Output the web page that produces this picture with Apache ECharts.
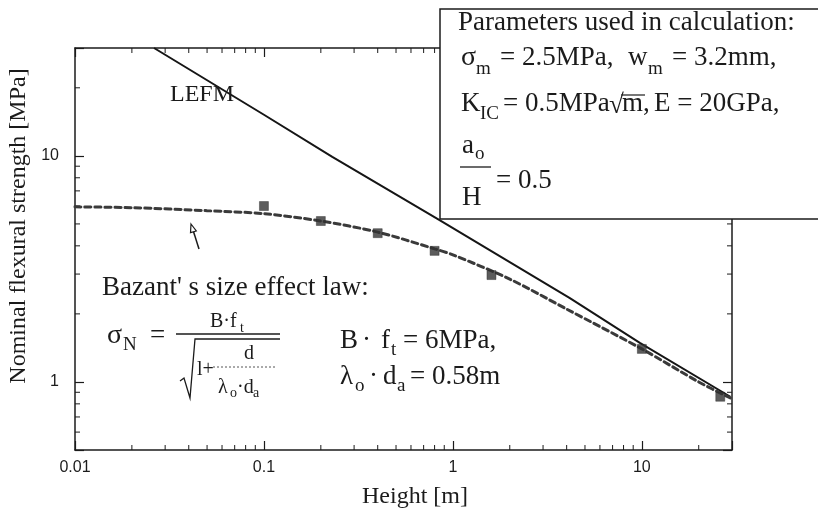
<!DOCTYPE html>
<html>
<head>
<meta charset="utf-8">
<script src="https://cdn.jsdelivr.net/npm/echarts@6/dist/echarts.min.js"></script>
<style>
html,body{margin:0;padding:0;background:#fff;}
#c{width:818px;height:508px;}
</style>
</head>
<body>
<div id="c"></div>
<script>
// ---------------- data ----------------
const lefmHeights     = [0.0262, 0.1, 0.23, 0.85, 4.16, 9.76, 29.4];
const lefmStrength    = [30, 15.2, 9.9, 5.2, 2.35, 1.49, 0.86];
const bazantHeights   = [0.01, 0.02, 0.05, 0.1, 0.2, 0.4, 0.8, 1, 2, 4, 10, 20, 29.4];
const bazantStrength  = [5.95, 5.9, 5.72, 5.55, 5.15, 4.6, 3.88, 3.65, 2.85, 2.1, 1.4, 1.0, 0.85];
const testHeights     = [0.1, 0.2, 0.4, 0.8, 1.6, 10, 26];
const testStrength    = [6.0, 5.15, 4.55, 3.8, 2.97, 1.4, 0.86];
const xTickLabels     = ['0.01', '0.1', '1', '10'];
const yTickLabels     = ['1', '10'];
const minorMantissas  = [2, 3, 4, 5, 6, 7, 8, 9];
const xDecades        = [0.01, 0.1, 1, 10];
const yDecades        = [0.1, 1, 10];
const X_MIN = 0.01, X_MAX = 30, Y_MIN = 0.5, Y_MAX = 30;

// ---------------- styling ----------------
const SERIF = '"Liberation Serif", "Times New Roman", serif';
const SANS  = '"Liberation Sans", Arial, sans-serif';
const INK   = '#1b1b1b';

const xMinor = xDecades.flatMap(d => minorMantissas.map(m => +(m * d).toPrecision(6)))
  .filter(v => v > X_MIN && v < X_MAX);
const yMinor = yDecades.flatMap(d => minorMantissas.map(m => +(m * d).toPrecision(6)))
  .filter(v => v > Y_MIN && v < Y_MAX);

function labelFor(list) {
  return function (v) {
    for (const l of list) {
      const n = Number(l);
      if (Math.abs(v - n) <= n * 1e-6) return l;
    }
    return '';
  };
}

function txt(s, x, base, size, extra) {
  return {
    type: 'text', x: x, y: base - size * 0.33, z: 101,
    style: Object.assign({
      text: s, fontFamily: SERIF, fontSize: size, fill: INK,
      align: 'left', verticalAlign: 'middle'
    }, extra || {})
  };
}
function ln(x1, y1, x2, y2, w, extra) {
  return { type: 'line', z: 101, shape: { x1, y1, x2, y2 },
    style: Object.assign({ stroke: INK, lineWidth: w || 1.3 }, extra || {}) };
}

const tickStyle = { show: true, inside: true, length: 9, lineStyle: { color: INK, width: 1.2 } };
const lineStyleAxis = { show: true, lineStyle: { color: INK, width: 1.5 } };

const chart = echarts.init(document.getElementById('c'), null, { renderer: 'canvas' });

const F = 27;   // main annotation font size
const S = 19;   // subscript size

const option = {
  animation: false,
  backgroundColor: '#ffffff',
  grid: { left: 75, top: 48, right: 86, bottom: 58, containLabel: false, outerBoundsMode: 'none' },
  xAxis: [
    {
      type: 'log', logBase: 10, min: X_MIN, max: X_MAX, position: 'bottom',
      axisLine: lineStyleAxis, axisTick: tickStyle, splitLine: { show: false },
      axisLabel: { formatter: labelFor(xTickLabels), color: INK, fontFamily: SANS, fontSize: 16, margin: 10 },
      name: 'Height [m]', nameLocation: 'middle', nameGap: 35,
      nameTextStyle: { fontFamily: SERIF, fontSize: 24, color: INK, padding: [0, 0, 0, 23] }
    },
    {
      type: 'log', logBase: 10, min: X_MIN, max: X_MAX, position: 'top',
      axisLine: lineStyleAxis, axisTick: tickStyle, splitLine: { show: false },
      axisLabel: { show: false }
    }
  ],
  yAxis: [
    {
      type: 'log', logBase: 10, min: Y_MIN, max: Y_MAX, position: 'left',
      axisLine: lineStyleAxis, axisTick: tickStyle, splitLine: { show: false },
      axisLabel: { formatter: labelFor(yTickLabels), color: INK, fontFamily: SANS, fontSize: 16, margin: 16 },
      name: 'Nominal flexural strength [MPa]', nameLocation: 'middle', nameGap: 36,
      nameTextStyle: { fontFamily: SERIF, fontSize: 24, color: INK, padding: [0, 0, 0, 46] }
    },
    {
      type: 'log', logBase: 10, min: Y_MIN, max: Y_MAX, position: 'right',
      axisLine: lineStyleAxis, axisTick: tickStyle, splitLine: { show: false },
      axisLabel: { show: false }
    }
  ],
  series: [
    {
      name: 'x minor ticks', type: 'custom', silent: true, z: 3,
      data: xMinor.map(v => [v, Y_MIN]),
      renderItem: function (params, api) {
        const v = api.value(0);
        const b = api.coord([v, Y_MIN]);
        const t = api.coord([v, Y_MAX]);
        return { type: 'group', children: [
          { type: 'line', shape: { x1: b[0], y1: b[1], x2: b[0], y2: b[1] - 5 }, style: { stroke: INK, lineWidth: 1 } },
          { type: 'line', shape: { x1: t[0], y1: t[1], x2: t[0], y2: t[1] + 5 }, style: { stroke: INK, lineWidth: 1 } }
        ] };
      }
    },
    {
      name: 'y minor ticks', type: 'custom', silent: true, z: 3,
      data: yMinor.map(v => [X_MIN, v]),
      renderItem: function (params, api) {
        const v = api.value(1);
        const l = api.coord([X_MIN, v]);
        const r = api.coord([X_MAX, v]);
        return { type: 'group', children: [
          { type: 'line', shape: { x1: l[0], y1: l[1], x2: l[0] + 5, y2: l[1] }, style: { stroke: INK, lineWidth: 1 } },
          { type: 'line', shape: { x1: r[0], y1: r[1], x2: r[0] - 5, y2: r[1] }, style: { stroke: INK, lineWidth: 1 } }
        ] };
      }
    },
    {
      name: 'LEFM', type: 'line', showSymbol: false, symbol: 'none',
      data: lefmHeights.map((h, i) => [h, lefmStrength[i]]),
      lineStyle: { color: '#151515', width: 2 }, z: 4
    },
    {
      name: "Bazant's size effect law", type: 'line', showSymbol: false, symbol: 'none', smooth: 0.3,
      data: bazantHeights.map((h, i) => [h, bazantStrength[i]]),
      lineStyle: { color: '#3a3a3a', width: 3, type: [6, 4], cap: 'round' }, z: 4
    },
    {
      name: 'Tests', type: 'scatter', symbol: 'rect', symbolSize: 9,
      data: testHeights.map((h, i) => [h, testStrength[i]]),
      itemStyle: { color: '#333333', borderColor: '#222', borderWidth: 0.5 }, z: 5
    }
  ],
  graphic: [
    // parameter box
    { type: 'rect', z: 100, shape: { x: 440, y: 9, width: 420, height: 210 },
      style: { fill: '#ffffff', stroke: INK, lineWidth: 1.5 } },
    txt('Parameters used in calculation:', 458, 32, F),
    txt('σ', 461, 67, F + 1),
    txt('m', 476, 75, S),
    txt('= 2.5MPa,', 500, 67, F),
    txt('w', 628, 67, F),
    txt('m', 648, 75, S),
    txt('= 3.2mm,', 672, 67, F),
    txt('K', 461, 113, F),
    txt('IC', 480, 120, S),
    txt('= 0.5MPa', 503, 113, F),
    txt('√', 609, 115, F),
    txt('m', 622, 113, F),
    ln(621, 95, 645, 95, 1.2),
    txt(',', 643, 113, F),
    txt('E = 20GPa,', 654, 113, F),
    txt('a', 462, 155, F),
    txt('o', 475, 160, S),
    ln(460, 167, 491, 167, 1.3),
    txt('H', 462, 207, F),
    txt('= 0.5', 496, 190, F),

    // LEFM label
    txt('LEFM', 170, 103, 24),

    // arrow
    ln(199, 249, 193, 230, 1.5),
    { type: 'polygon', z: 101, shape: { points: [[191, 224], [196.3, 231], [190.5, 232.7]] },
      style: { fill: '#ffffff', stroke: INK, lineWidth: 1.2 } },

    // Bazant block
    txt("Bazant' s size effect law:", 102, 297, F),
    txt('σ', 107, 345, F + 1),
    txt('N', 123, 351, S),
    txt('=', 150, 345, F),
    txt('B·f', 210, 328, 20),
    txt('t', 240, 333, 14),
    ln(176, 334, 280, 334, 1.3),
    { type: 'polyline', z: 101, shape: { points: [[180, 381], [184, 378], [190, 398], [195, 339], [280, 339]] },
      style: { stroke: INK, lineWidth: 1.3, fill: null } },
    txt('l+', 197, 376, 20),
    txt('d', 244, 360, 20),
    ln(213, 367, 276, 367, 1, { lineDash: [2, 2], stroke: '#555' }),
    txt('λ', 218, 394, 20),
    txt('o', 230, 398, 14),
    txt('·d', 237, 394, 20),
    txt('a', 253, 398, 14),

    txt('B', 340, 350, F),
    txt('·', 362, 350, F),
    txt('f', 381, 350, F),
    txt('t', 391, 356, S),
    txt('= 6MPa,', 403, 350, F),
    txt('λ', 340, 386, F),
    txt('o', 355, 392, S),
    txt('·', 369, 386, F),
    txt('d', 383, 386, F),
    txt('a', 397, 392, S),
    txt('= 0.58m', 410, 386, F)
  ]
};

chart.setOption(option);
</script>
</body>
</html>
